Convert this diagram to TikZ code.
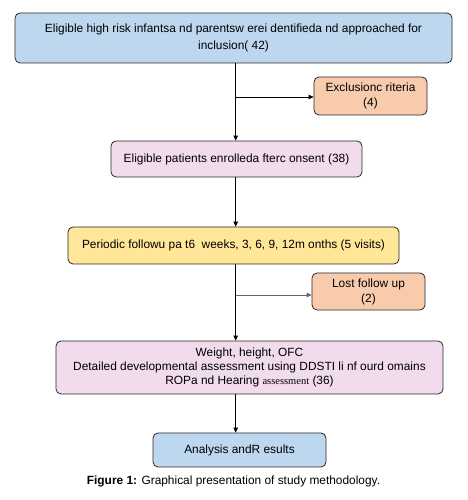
\documentclass[tikz,border=0pt]{standalone}
\usepackage{fontspec}
\setmainfont{Liberation Sans}
\newfontfamily\serifsmall{Liberation Serif}
\usetikzlibrary{arrows.meta}
\definecolor{bxblue}{RGB}{189,215,238}
\definecolor{bxpink}{RGB}{240,220,236}
\definecolor{bxorange}{RGB}{248,203,173}
\definecolor{bxyellow}{RGB}{255,230,153}
\definecolor{edgegray}{RGB}{40,40,40}
\tikzset{
  flowbox/.style={draw=edgegray, line width=0.8pt, rounded corners=5pt, align=center, inner sep=0pt, font=\fontsize{11.9pt}{13.8pt}\selectfont},
  conn/.style={line width=0.8pt, -{Triangle[length=5pt,width=4.5pt]}},
  plainline/.style={line width=0.8pt}
}
\begin{document}
\begin{tikzpicture}[x=1pt,y=1pt]
\useasboundingbox (0,0) rectangle (467,500);
\node[flowbox, fill=bxblue, minimum width=437pt, minimum height=50pt, font=\fontsize{11.9pt}{17pt}\selectfont] (top) at (233.5,462)
  {Eligible high risk infantsa nd parentsw erei dentifieda nd approached for\\inclusion( 42)};
\node[flowbox, fill=bxorange, minimum width=113pt, minimum height=38pt, font=\fontsize{11.9pt}{15pt}\selectfont] (excl) at (370.5,404)
  {Exclusionc riteria\\(4)};
\node[flowbox, fill=bxpink, minimum width=251pt, minimum height=36pt] (enr) at (236.5,341)
  {Eligible patients enrolleda fterc onsent (38)};
\node[flowbox, fill=bxyellow, minimum width=331pt, minimum height=37pt] (per) at (233.5,254.5)
  {Periodic followu pa t6\ \ weeks, 3, 6, 9, 12m onths (5 visits)};
\node[flowbox, fill=bxorange, minimum width=113pt, minimum height=37pt, font=\fontsize{11.9pt}{15pt}\selectfont] (lost) at (368.5,208.5)
  {Lost follow up\\(2)};
\node[flowbox, fill=bxpink, minimum width=387pt, minimum height=53pt] (wt) at (249.5,132.5)
  {Weight, height, OFC\\Detailed developmental assessment using DDSTI li nf ourd omains\\ROPa nd Hearing {\serifsmall\fontsize{10.5pt}{10pt}\selectfont assessment} (36)};
\node[flowbox, fill=bxblue, minimum width=173pt, minimum height=34pt] (ana) at (239.5,50)
  {Analysis andR esults};
\node[font=\fontsize{11.9pt}{13pt}\selectfont] (cap) at (233.5,19)
  {\textbf{Figure 1:} Graphical presentation of study methodology.};
\coordinate (sp) at (235.7,0);
\coordinate (b1) at (235.7,403);
\coordinate (b2) at (235.7,205);
\draw[conn] (top.south -| sp) -- (enr.north -| sp);
\draw[conn] (b1) -- (b1 -| excl.west);
\draw[conn] (enr.south -| sp) -- (per.north -| sp);
\draw[conn] (per.south -| sp) -- (wt.north -| sp);
\draw[conn, draw=gray!80!black] (b2) -- (b2 -| lost.west);
\draw[conn] (wt.south -| sp) -- (ana.north -| sp);
\end{tikzpicture}
\end{document}
